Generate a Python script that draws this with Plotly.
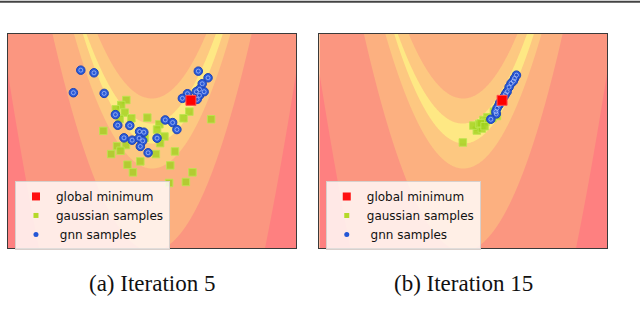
import numpy as np
import plotly.graph_objects as go

# plotting window (Rosenbrock-style valley)
X_RANGE = [-3.7, 3.7]
Y_RANGE = [-3.45, 3.0]
LOG_LEVELS = dict(start=1.0, end=4.2, size=1.05)
BAND_COLORS = ['#fee884', '#fdc881', '#fcb080', '#fb9680', '#fe8080']

global_min = (1.0, 1.0)

# iteration 5
gnn5_x = [-1.83, -1.49, -2.02, -1.23, 1.19, 1.44, 1.29, 1.22, 1.14, 0.91, 0.78, 1.22, 1.16, 1.34,
          -0.94, -0.88, -0.57, 0.34, 0.53, 0.64, -0.32, -0.21, -0.72, -0.51, -0.33, -0.24, 0.13,
          -0.30, -0.10]
gnn5_y = [1.91, 1.83, 1.23, 1.21, 1.88, 1.68, 1.50, 1.33, 1.26, 1.20, 1.06, 1.15, 1.03, 1.26,
          0.57, 0.25, 0.24, 0.41, 0.33, 0.12, 0.06, 0.04, -0.13, -0.20, -0.14, -0.22, -0.14,
          -0.39, -0.58]
gauss5_x = [-0.66, -0.79, -0.93, -0.70, -0.83, -0.53, -0.12, -1.25, 0.19, 0.13, 0.32, -0.19,
            0.21, -0.90, -0.67, -0.81, -1.05, 0.10, 0.59, -0.63, -0.30, 0.47, -0.49, 1.04,
            0.44, 0.87, 0.96, 0.81, 1.52]
gauss5_y = [1.01, 0.86, 0.73, 0.63, 0.44, 0.46, 0.48, 0.08, 0.28, 0.12, -0.09, -0.13,
            -0.29, -0.38, -0.35, -0.52, -0.62, -0.62, -0.54, -0.94, -0.84, -0.96, -1.17, -1.17,
            -1.49, -1.46, 0.66, 0.46, 0.43]

# iteration 15
gnn15_x = [1.37, 1.32, 1.29, 1.23, 1.18, 1.13, 1.09, 1.05, 1.00, 0.94, 0.92, 0.87, 0.85, 0.84, 0.71]
gnn15_y = [1.76, 1.66, 1.58, 1.51, 1.40, 1.26, 1.19, 1.11, 1.01, 0.93, 0.86, 0.76, 0.59, 0.66, 0.43]
gauss15_x = [0.62, 0.52, 0.40, 0.35, 0.48, 0.26, 0.79, 0.87, 0.75, -0.01, 0.41, 0.57, 0.45, 0.55]
gauss15_y = [0.49, 0.41, 0.21, 0.09, 0.15, 0.24, 0.66, 0.53, 0.46, -0.27, 0.29, 0.35, 0.31, 0.22]

captions = ['(a) Iteration 5', '(b) Iteration 15']

# surface
gx = np.linspace(X_RANGE[0], X_RANGE[1], 320)
gy = np.linspace(Y_RANGE[0], Y_RANGE[1], 260)
XX, YY = np.meshgrid(gx, gy)
ZZ = np.log10((1 - XX) ** 2 + 100 * (YY - XX ** 2) ** 2)

n = len(BAND_COLORS)
cscale = []
for i, c in enumerate(BAND_COLORS):
    cscale += [[i / n, c], [(i + 1) / n, c]]

fig = go.Figure()
panels = [
    ('x', 'y', 'legend', gauss5_x, gauss5_y, gnn5_x, gnn5_y),
    ('x2', 'y2', 'legend2', gauss15_x, gauss15_y, gnn15_x, gnn15_y),
]
for xa, ya, lg, gsx, gsy, gnx, gny in panels:
    fig.add_trace(go.Contour(
        x=gx, y=gy, z=ZZ, xaxis=xa, yaxis=ya, autocontour=False,
        contours=dict(coloring='fill', showlines=False, **LOG_LEVELS),
        colorscale=cscale, showscale=False, line=dict(width=0), hoverinfo='skip'))
    fig.add_trace(go.Scatter(
        x=gsx, y=gsy, xaxis=xa, yaxis=ya, mode='markers', showlegend=False,
        marker=dict(symbol='square', size=7.5, color='rgba(160,210,30,0.8)',
                    line=dict(color='rgba(190,228,80,0.9)', width=1))))
    fig.add_trace(go.Scatter(
        x=gnx, y=gny, xaxis=xa, yaxis=ya, mode='markers', showlegend=False,
        marker=dict(symbol='circle', size=8.5, color='#2a5bd8',
                    line=dict(color='#1d44b8', width=1))))
    fig.add_trace(go.Scatter(
        x=gnx, y=gny, xaxis=xa, yaxis=ya, mode='markers', showlegend=False,
        hoverinfo='skip',
        marker=dict(symbol='circle-open', size=4, color='rgba(190,205,250,0.65)',
                    line=dict(width=1))))
    fig.add_trace(go.Scatter(
        x=[global_min[0]], y=[global_min[1]], xaxis=xa, yaxis=ya, mode='markers',
        showlegend=False,
        marker=dict(symbol='square', size=10, color='#ff0000',
                    line=dict(color='#ff5050', width=1))))
    # legend entries
    for name, sym, size, col in [('global minimum', 'square', 8, '#ff1010'),
                                 ('gaussian samples', 'square', 5, '#b5d92a'),
                                 ('\u00a0gnn samples', 'circle', 5, '#2456d6')]:
        fig.add_trace(go.Scatter(
            x=[None], y=[None], xaxis=xa, yaxis=ya, mode='markers', name=name, legend=lg,
            marker=dict(symbol=sym, size=size, color=col)))

axis_style = dict(showticklabels=False, ticks='', showgrid=False, zeroline=False,
                  showline=True, mirror=True, linecolor='#3a3a3a', linewidth=1)
legend_style = dict(bgcolor='rgba(255,250,248,0.85)', bordercolor='#d8d0cc', borderwidth=1,
                    font=dict(family='DejaVu Sans', size=12, color='#111'),
                    xanchor='left', yanchor='top', tracegroupgap=0)

fig.update_layout(
    width=640, height=329,
    margin=dict(l=0, r=0, t=0, b=0),
    paper_bgcolor='white', plot_bgcolor='white',
    xaxis=dict(domain=[0.0125, 0.4625], range=X_RANGE, anchor='y', **axis_style),
    yaxis=dict(domain=[0.2462, 0.8967], range=Y_RANGE, anchor='x', **axis_style),
    xaxis2=dict(domain=[0.4992, 0.9484], range=X_RANGE, anchor='y2', **axis_style),
    yaxis2=dict(domain=[0.2462, 0.8967], range=Y_RANGE, anchor='x2', **axis_style),
    legend=dict(x=0.0234, y=0.45, **legend_style),
    legend2=dict(x=0.509, y=0.45, **legend_style),
    modebar=dict(bgcolor='rgba(0,0,0,0)', color='rgba(0,0,0,0)',
                 activecolor='rgba(0,0,0,0)'),
    shapes=[dict(type='line', xref='paper', yref='paper', x0=0, x1=1, y0=0.995, y1=0.995,
                 line=dict(color='#444', width=2))],
    annotations=[
        dict(text=captions[0], x=0.2375, y=0.1398, xref='paper', yref='paper',
             xanchor='center', yanchor='middle', showarrow=False,
             font=dict(family='Liberation Serif', size=23, color='#111')),
        dict(text=captions[1], x=0.7238, y=0.1398, xref='paper', yref='paper',
             xanchor='center', yanchor='middle', showarrow=False,
             font=dict(family='Liberation Serif', size=23, color='#111')),
    ],
)

fig.write_html("out.html", config={'displayModeBar': False},
               post_script="document.body.style.margin='0';")
